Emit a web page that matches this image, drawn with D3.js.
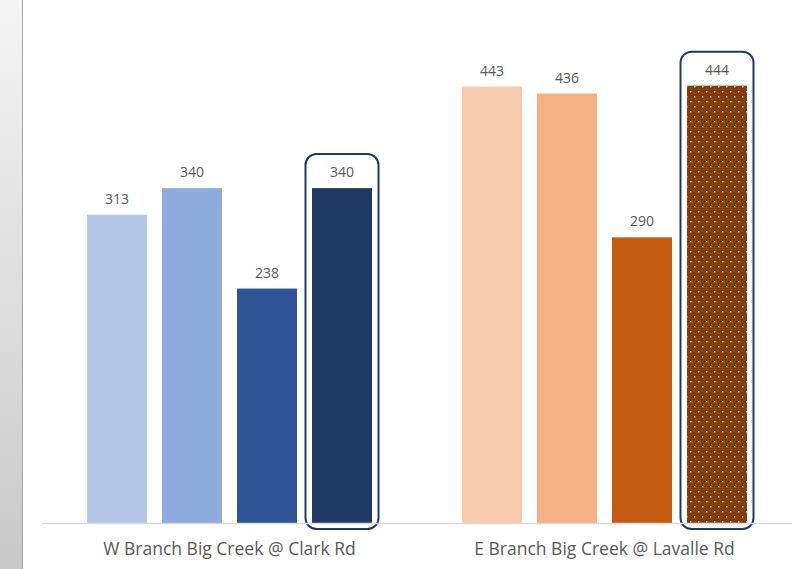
<!DOCTYPE html>
<html>
<head>
<meta charset="utf-8">
<script src="https://cdn.jsdelivr.net/npm/d3@7.9.0/dist/d3.min.js"></script>
<style>
  html, body { margin: 0; padding: 0; background: #fff; }
  svg { display: block; font-family: "Open Sans", "Noto Sans", sans-serif; }
</style>
</head>
<body>
<svg id="chart" width="804" height="569"></svg>
<script>
// chart data
const sites = ['W Branch Big Creek @ Clark Rd', 'E Branch Big Creek @ Lavalle Rd'];
const seriesKeys = ['s1', 's2', 's3', 's4'];
const westValues = [313, 340, 238, 340];
const eastValues = [443, 436, 290, 444];
const westColors = ['#b4c7e7', '#8faadc', '#2f5597', '#203864'];
const eastColors = ['#f8cbad', '#f4b183', '#c55a11', '#843c0c'];

const svg = d3.select('#chart');
const W = 804, H = 569;

// gray window edge on the left
const defs = svg.append('defs');
const grad = defs.append('linearGradient')
    .attr('id', 'edgeGrad').attr('x1', 0).attr('y1', 0).attr('x2', 0).attr('y2', 1);
grad.append('stop').attr('offset', '0%').attr('stop-color', '#f4f4f4');
grad.append('stop').attr('offset', '100%').attr('stop-color', '#c9c9c9');
svg.append('rect').attr('x', 0).attr('y', 0).attr('width', 22).attr('height', H)
    .attr('fill', 'url(#edgeGrad)');
svg.append('line').attr('x1', 22.5).attr('x2', 22.5).attr('y1', 0).attr('y2', H)
    .attr('stroke', '#a6a6a6').attr('stroke-width', 1);

// dotted fill for the last east bar
const pat = defs.append('pattern')
    .attr('id', 'dots').attr('patternUnits', 'userSpaceOnUse')
    .attr('width', 8).attr('height', 10);
pat.append('rect').attr('width', 8).attr('height', 10).attr('fill', eastColors[3]);
pat.append('rect').attr('x', 1).attr('y', 1).attr('width', 1.4).attr('height', 1.4).attr('fill', '#ffffff');
pat.append('rect').attr('x', 5).attr('y', 6).attr('width', 1.4).attr('height', 1.4).attr('fill', '#ffffff');

const data = [
    { site: sites[0], values: westValues, colors: westColors },
    { site: sites[1], values: eastValues, colors: eastColors }
];

// scales
const x0 = d3.scaleBand().domain(sites).range([42, 792]).padding(0);
const x1 = d3.scaleBand().domain(seriesKeys).range([0, x0.bandwidth()])
    .paddingInner(0.2).paddingOuter(0.6);
const y = d3.scaleLinear().domain([0, 500]).range([523, 30.5]);

// bars
const groups = svg.selectAll('g.site')
    .data(data)
    .join('g')
    .attr('class', 'site')
    .attr('transform', d => `translate(${x0(d.site)},0)`);

groups.each(function(d, gi) {
    const g = d3.select(this);
    const rows = d.values.map((v, i) => ({ key: seriesKeys[i], value: v, color: d.colors[i] }));

    g.selectAll('rect.bar')
        .data(rows)
        .join('rect')
        .attr('class', 'bar')
        .attr('x', r => x1(r.key))
        .attr('y', r => y(r.value))
        .attr('width', x1.bandwidth())
        .attr('height', r => y(0) - y(r.value))
        .attr('fill', (r, i) => (gi === 1 && i === 3) ? 'url(#dots)' : r.color);

    g.selectAll('text.val')
        .data(rows)
        .join('text')
        .attr('class', 'val')
        .attr('x', r => x1(r.key) + x1.bandwidth() / 2)
        .attr('y', r => y(r.value) - 11)
        .attr('text-anchor', 'middle')
        .attr('font-size', 14)
        .attr('fill', '#595959')
        .text(r => r.value);

    // highlight box around the last bar
    const last = rows[3];
    g.append('rect')
        .attr('x', x1(last.key) - 6.5)
        .attr('y', y(last.value) - 34)
        .attr('width', x1.bandwidth() + 13)
        .attr('height', y(0) - y(last.value) + 40)
        .attr('rx', 11)
        .attr('fill', 'none')
        .attr('stroke', '#203864')
        .attr('stroke-width', 2);
});

// baseline
svg.append('line')
    .attr('x1', 42).attr('x2', 792)
    .attr('y1', y(0) + 0.5).attr('y2', y(0) + 0.5)
    .attr('stroke', '#d9d9d9').attr('stroke-width', 1.5);

// category axis labels
const xAxis = d3.axisBottom(x0).tickSize(0).tickPadding(17);
const ax = svg.append('g').attr('transform', `translate(0,${y(0) + 3})`).call(xAxis);
ax.select('.domain').remove();
ax.selectAll('text')
    .attr('font-size', 17.5)
    .attr('fill', '#595959')
    .attr('font-family', '"Open Sans", "Noto Sans", sans-serif');
</script>
</body>
</html>
